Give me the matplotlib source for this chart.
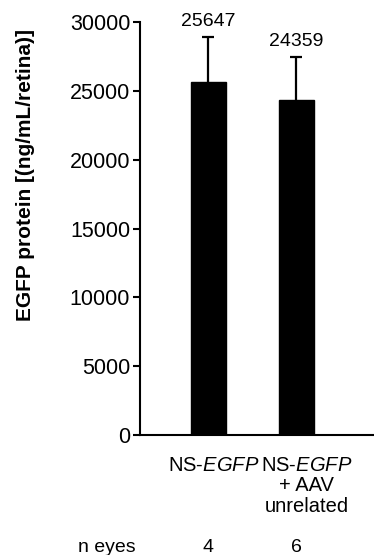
import matplotlib.pyplot as plt

plt.rcParams['font.family'] = ['Liberation Sans', 'DejaVu Sans']
plt.rcParams['mathtext.fontset'] = 'custom'
plt.rcParams['mathtext.rm'] = 'Liberation Sans'
plt.rcParams['mathtext.it'] = 'Liberation Sans:italic'

groups = ['NS-EGFP', 'NS-EGFP + AAV unrelated']
means = [25647, 24359]
errs = [3260, 3100]
n_eyes = ['4', '6']
yticks = [0, 5000, 10000, 15000, 20000, 25000, 30000]

fig = plt.figure(figsize=(3.74, 5.55), dpi=100)
ax = fig.add_axes([0.374, 0.216, 0.626, 0.744])

x = [0, 1]
ax.bar(x, means, width=0.4, color='black', edgecolor='black', zorder=2)
# lower half of the error bar is hidden behind the bar
ax.errorbar(x, means, yerr=errs, fmt='none', ecolor='black',
            elinewidth=1.6, capsize=4, capthick=1.6, zorder=1)

for xi, m, e in zip(x, means, errs):
    ax.annotate(f'{m}', (xi, m + e), xytext=(0, 5), textcoords='offset points',
                ha='center', va='bottom', fontsize=14)

ax.set_xlim(-0.783, 1.89)
ax.set_ylim(0, 30000)
ax.set_yticks(yticks)
ax.set_yticklabels([str(t) for t in yticks], fontsize=15.5)
ax.set_xticks([])

for s in ['top', 'right']:
    ax.spines[s].set_visible(False)
ax.spines['left'].set_linewidth(1.5)
ax.spines['bottom'].set_linewidth(1.5)
ax.tick_params(axis='y', length=5, width=1.5, pad=2)

# category labels
ax.text(0.065, -0.05, r'NS-$\mathit{EGFP}$', transform=ax.get_xaxis_transform(),
        ha='center', va='top', fontsize=14.5)
ax.text(1.12, -0.05, r'NS-$\mathit{EGFP}$' + '\n+ AAV\nunrelated',
        transform=ax.get_xaxis_transform(), ha='center', va='top',
        fontsize=14.5, linespacing=1.1, multialignment='center')

# n eyes row
fig.text(107 / 374, 1 - 547 / 555, 'n eyes', ha='center', va='center', fontsize=14)
for xi, n in zip(x, n_eyes):
    ax.text(xi, -0.272, n, transform=ax.get_xaxis_transform(),
            ha='center', va='center', fontsize=14)

fig.text(26 / 374, 1 - 175 / 555, 'EGFP protein [(ng/mL/retina)]', rotation=90,
         ha='center', va='center', fontsize=15, fontweight='bold')

fig.savefig('out.png', dpi=100)
